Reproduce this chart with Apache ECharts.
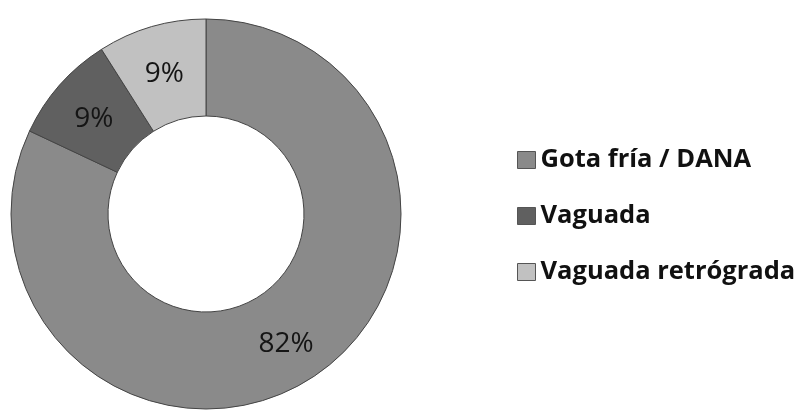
<!DOCTYPE html>
<html><head><meta charset="utf-8">
<script src="https://cdn.jsdelivr.net/npm/echarts@6/dist/echarts.min.js"></script>
<style>html,body{margin:0;padding:0;background:#fff}#c{width:800px;height:411px}</style>
</head><body><div id="c"></div>
<script>
const categories = ['Gota fría / DANA', 'Vaguada', 'Vaguada retrógrada'];
const values = [82, 9, 9];
const colors = ['#8a8a8a', '#606060', '#c1c1c1'];

const chart = echarts.init(document.getElementById('c'), null, {renderer: 'canvas'});
chart.setOption({
  animation: false,
  legend: {
    orient: 'vertical',
    left: 512,
    top: 142,
    padding: 5,
    itemWidth: 18,
    itemHeight: 17,
    itemGap: 30,
    icon: 'rect',
    itemStyle: {borderColor: '#555', borderWidth: 1},
    textStyle: {fontFamily: 'Open Sans', fontWeight: 'bold', fontSize: 25.5, lineHeight: 26, color: '#111'},
    data: categories
  },
  series: [{
    type: 'pie',
    center: [206, 214],
    radius: [98, 195],
    startAngle: 90,
    clockwise: true,
    avoidLabelOverlap: false,
    itemStyle: {borderColor: '#444', borderWidth: 1},
    label: {
      position: 'inside',
      formatter: '{d}%',
      fontFamily: 'Open Sans',
      fontSize: 28,
      color: '#151515',
      offset: [0, 4]
    },
    labelLine: {show: false},
    data: categories.map((n, i) => ({name: n, value: values[i], itemStyle: {color: colors[i]}}))
  }]
});
</script></body></html>
